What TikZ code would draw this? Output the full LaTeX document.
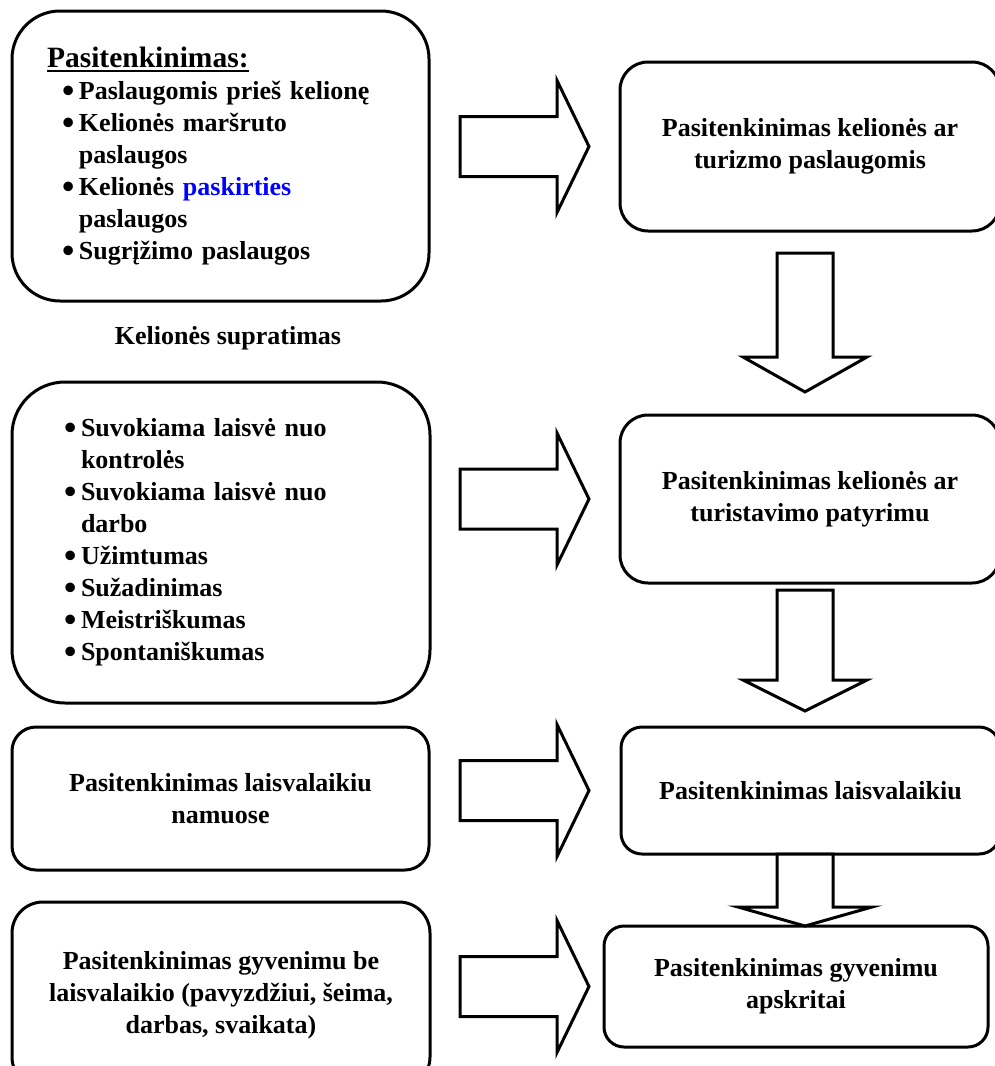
\documentclass[tikz,border=0pt]{standalone}
\usepackage{fontspec}
\setmainfont{Liberation Serif}

\newcommand\pkt{\makebox[17pt][l]{\raisebox{-3pt}{\scalebox{1.35}{•}}}}
\newlength\pabilg
\newcommand\pabr[1]{\settowidth\pabilg{#1}\rlap{\rule[-5pt]{\pabilg}{2.5pt}}#1}

\begin{document}
\begin{tikzpicture}[x=1pt,y=-1pt,
		every node/.style={font=\fontsize{26}{32}\selectfont\bfseries},
		dezute/.style={draw,line width=3pt,inner sep=0pt,align=center},
		rodykle/.style={draw,line width=3pt,line join=miter,fill=white}]
		\useasboundingbox (0,0) rectangle (995,1066);
		\clip (0,0) rectangle (995,1066);
		
		% Kairė pusė
		\node[dezute,rounded corners=48pt,minimum width=417pt,minimum height=290pt,text width=347pt,align=left] (vienas) at (220.5,156)
		{{\fontsize{29.5}{32}\selectfont\pabr{Pasitenkinimas:}}\\
			\hspace*{15pt}\pkt Paslaugomis prieš kelionę\\
			\hspace*{15pt}\pkt Kelionės maršruto\\
			\hspace*{32pt}paslaugos\\
			\hspace*{15pt}\pkt Kelionės \textcolor{blue}{paskirties}\\
			\hspace*{32pt}paslaugos\\
			\hspace*{15pt}\pkt Sugrįžimo paslaugos};
		
		\node (supratimas) at (228,338) {Kelionės supratimas};
		
		\node[dezute,rounded corners=53pt,minimum width=418pt,minimum height=321pt,text width=314pt,align=left] (du) at (221,542.5)
		{\pkt Suvokiama laisvė nuo\\
			\hspace*{17pt}kontrolės\\
			\pkt Suvokiama laisvė nuo\\
			\hspace*{17pt}darbo\\
			\pkt Užimtumas\\
			\pkt Sužadinimas\\
			\pkt Meistriškumas\\
			\pkt Spontaniškumas};
		
		\node[dezute,rounded corners=24pt,minimum width=417pt,minimum height=143pt] (trys) at (220.5,798.5)
		{Pasitenkinimas laisvalaikiu\\namuose};
		
		\node[dezute,rounded corners=31pt,minimum width=418pt,minimum height=186pt] (keturi) at (221,995)
		{Pasitenkinimas gyvenimu be\\laisvalaikio (pavyzdžiui, šeima,\\darbas, svaikata)};
		
		% Dešinė pusė
		\node[dezute,rounded corners=28pt,minimum width=380pt,minimum height=169pt] (paslaugos) at (810,146.5)
		{Pasitenkinimas kelionės ar\\turizmo paslaugomis};
		\node[dezute,rounded corners=28pt,minimum width=380pt,minimum height=168pt] (patirtis) at (810,499)
		{Pasitenkinimas kelionės ar\\turistavimo patyrimu};
		\node[dezute,rounded corners=21pt,minimum width=379pt,minimum height=127pt] (laisvalaikis) at (810.5,790.5)
		{Pasitenkinimas laisvalaikiu};
		\node[dezute,rounded corners=20pt,minimum width=384pt,minimum height=121pt] (gyvenimas) at (796,986.5)
		{Pasitenkinimas gyvenimu\\apskritai};
		
		% Rodyklės į dešinę
		\foreach \ziel in {paslaugos,patirtis,laisvalaikis,gyvenimas}
		\draw[rodykle] (460,0 |- \ziel) ++(0,-30) -- ++(97,0) -- ++(0,-36) -- ++(32,66) -- ++(-32,66) -- ++(0,-36) -- ++(-97,0) -- cycle;
		
		% Rodyklės žemyn
		\foreach \virsus/\galva/\smaigalys/\plotis in {253/357/392/62,590/680/711/62,854/907/926/67}
		\draw[rodykle] (777,\virsus) -- (833,\virsus) -- (833,\galva) -- (805+\plotis,\galva) -- (805,\smaigalys) -- (805-\plotis,\galva) -- (777,\galva) -- cycle;
	\end{tikzpicture}
\end{document}
